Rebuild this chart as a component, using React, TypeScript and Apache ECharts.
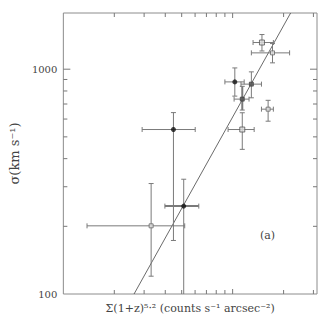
import React, { useEffect, useRef } from "react";
import * as echarts from "echarts";

// Data (x in arbitrary units, y in km/s)
const ptX = [1.49, 1.72, 1.03, 1.29, 1.14, 1.62, 1.14, 0.447, 0.514, 0.330];
const ptY = [1314, 1182, 878, 858, 736, 664, 539, 539, 246, 201];
const ptXLo = [1.32, 1.29, 0.90, 1.12, 1.02, 1.48, 0.94, 0.292, 0.398, 0.138];
const ptXHi = [1.74, 2.17, 1.17, 1.48, 1.25, 1.74, 1.34, 0.601, 0.631, 0.521];
const ptYLo = [1205, 1067, 759, 746, 658, 587, 440, 173, 60, 120];
const ptYHi = [1426, 1300, 1013, 973, 839, 727, 640, 641, 324, 310];
// marker kinds: "sq" open square, "sqs" small open square, "dot" filled circle, "fsq" filled square
const ptKind = ["sq", "sqs", "dot", "fsq", "fsq", "sqs", "sq", "dot", "dot", "sqs"];
const thickH = [0, 0, 0, 0, 0, 0, 0, 0, 1, 0];
const thickV = [0, 0, 0, 0, 1, 0, 0, 0, 0, 0];

const fitX = [0.2616, 2.2];
const fitY = [100, 1778];

const xMinorTicks = [0.2, 0.3, 0.4, 0.5, 0.6, 0.7, 0.8, 0.9, 2, 3];
const xMajorTicks = [1];
const yMinorTicks = [200, 300, 400, 500, 600, 700, 800, 900];
const yMajorTicks = [1000];

const X_MIN = 0.1;
const X_MAX = 3.15;
const Y_MIN = 100;
const Y_MAX = 1778;

const FONT = "DejaVu Serif";

export default function App() {
  const ref = useRef<HTMLDivElement>(null);
  useEffect(() => {
    if (!ref.current) return;
    const chart = echarts.init(ref.current, undefined, { renderer: "svg" });

    const errData = ptX.map((x, i) => [x, ptY[i], ptXLo[i], ptXHi[i], ptYLo[i], ptYHi[i], thickH[i], thickV[i]]);
    const barColor = "#7a7a7a";
    const cap = 2.5;

    const yTickData = [
      ...yMinorTicks.map((v) => [X_MIN, v, 4]),
      ...yMajorTicks.map((v) => [X_MIN, v, 7]),
    ];
    const xTickData = [
      ...xMinorTicks.map((v) => [v, Y_MIN, 4]),
      ...xMajorTicks.map((v) => [v, Y_MIN, 5]),
    ];

    const mk = (kind: string) => ptX.map((x, i) => (ptKind[i] === kind ? [x, ptY[i]] : null)).filter(Boolean);

    const isPow10 = (v: number) => Math.abs(Math.log10(v) - Math.round(Math.log10(v))) < 1e-6;

    chart.setOption({
      animation: false,
      backgroundColor: "#fff",
      grid: {
        left: 37.5,
        top: 13,
        width: 279.5,
        height: 281,
        show: true,
        borderColor: "#8c8c8c",
        borderWidth: 1,
        backgroundColor: "transparent",
      },
      xAxis: {
        type: "log",
        logBase: 10,
        min: X_MIN,
        max: X_MAX,
        axisLine: { show: false },
        axisTick: { show: false },
        splitLine: { show: false },
        axisLabel: { show: false },
        name: "Σ(1+z)⁵·² (counts s⁻¹ arcsec⁻²)",
        nameLocation: "middle",
        nameGap: 9,
        nameTextStyle: { fontFamily: FONT, fontSize: 11, color: "#444", verticalAlign: "top" },
      },
      yAxis: {
        type: "log",
        logBase: 10,
        min: Y_MIN,
        max: Y_MAX,
        axisLine: { show: false },
        axisTick: { show: false },
        splitLine: { show: false },
        axisLabel: {
          fontFamily: FONT,
          fontSize: 10,
          color: "#444",
          margin: 6,
          formatter: (v: number) => (isPow10(v) ? String(Math.round(v)) : ""),
        },
        name: "σ(km s⁻¹)",
        nameLocation: "middle",
        nameGap: 26,
        nameRotate: 90,
        nameTextStyle: { fontFamily: FONT, fontSize: 13, color: "#444" },
      },
      series: [
        {
          type: "custom",
          name: "yticks",
          data: yTickData,
          clip: false,
          silent: true,
          renderItem: (params: any, api: any) => {
            const cs = params.coordSys;
            const y = api.coord([api.value(0), api.value(1)])[1];
            const len = api.value(2);
            return {
              type: "group",
              children: [
                { type: "line", shape: { x1: cs.x, y1: y, x2: cs.x + len, y2: y }, style: { stroke: "#777", lineWidth: 1 } },
                { type: "line", shape: { x1: cs.x + cs.width - len, y1: y, x2: cs.x + cs.width, y2: y }, style: { stroke: "#777", lineWidth: 1 } },
              ],
            };
          },
        },
        {
          type: "custom",
          name: "xticks",
          data: xTickData,
          clip: false,
          silent: true,
          renderItem: (params: any, api: any) => {
            const cs = params.coordSys;
            const x = api.coord([api.value(0), api.value(1)])[0];
            const len = api.value(2);
            return {
              type: "group",
              children: [
                { type: "line", shape: { x1: x, y1: cs.y + cs.height, x2: x, y2: cs.y + cs.height - len }, style: { stroke: "#777", lineWidth: 1 } },
                { type: "line", shape: { x1: x, y1: cs.y, x2: x, y2: cs.y + len }, style: { stroke: "#777", lineWidth: 1 } },
              ],
            };
          },
        },
        {
          type: "line",
          name: "fit",
          data: fitX.map((x, i) => [x, fitY[i]]),
          symbol: "none",
          lineStyle: { color: "#444", width: 0.8 },
          clip: true,
          z: 3,
        },
        {
          type: "custom",
          name: "errors",
          data: errData,
          clip: true,
          z: 4,
          renderItem: (params: any, api: any) => {
            const c = api.coord([api.value(0), api.value(1)]);
            const xl = api.coord([api.value(2), api.value(1)])[0];
            const xh = api.coord([api.value(3), api.value(1)])[0];
            const yl = api.coord([api.value(0), api.value(4)])[1];
            const yh = api.coord([api.value(0), api.value(5)])[1];
            const wH = api.value(6) ? 2 : 1;
            const wV = api.value(7) ? 2 : 1;
            const st = (w: number) => ({ stroke: barColor, lineWidth: w });
            return {
              type: "group",
              children: [
                { type: "line", shape: { x1: xl, y1: c[1], x2: xh, y2: c[1] }, style: st(wH) },
                { type: "line", shape: { x1: c[0], y1: yl, x2: c[0], y2: yh }, style: st(wV) },
                { type: "line", shape: { x1: xl, y1: c[1] - cap, x2: xl, y2: c[1] + cap }, style: st(1) },
                { type: "line", shape: { x1: xh, y1: c[1] - cap, x2: xh, y2: c[1] + cap }, style: st(1) },
                { type: "line", shape: { x1: c[0] - cap, y1: yl, x2: c[0] + cap, y2: yl }, style: st(1) },
                { type: "line", shape: { x1: c[0] - cap, y1: yh, x2: c[0] + cap, y2: yh }, style: st(1) },
              ],
            };
          },
        },
        {
          type: "scatter",
          name: "open squares",
          data: mk("sq"),
          symbol: "rect",
          symbolSize: 5,
          itemStyle: { color: "#ddd", borderColor: "#555", borderWidth: 1 },
          z: 5,
        },
        {
          type: "scatter",
          name: "small squares",
          data: mk("sqs"),
          symbol: "rect",
          symbolSize: 4,
          itemStyle: { color: "#e5e5e5", borderColor: "#666", borderWidth: 1 },
          z: 5,
        },
        {
          type: "scatter",
          name: "filled squares",
          data: mk("fsq"),
          symbol: "rect",
          symbolSize: 4,
          itemStyle: { color: "#555", borderColor: "#333", borderWidth: 0.8 },
          z: 5,
        },
        {
          type: "scatter",
          name: "dots",
          data: mk("dot"),
          symbol: "circle",
          symbolSize: 5,
          itemStyle: { color: "#111" },
          z: 5,
        },
      ],
      graphic: [
        {
          type: "text",
          left: 260,
          top: 230,
          style: { text: "(a)", font: `11px '${FONT}'`, fill: "#444" },
        },
      ],
    });

    return () => chart.dispose();
  }, []);

  return <div ref={ref} style={{ position: "fixed", left: 0, top: 0, width: 327, height: 330 }} />;
}
